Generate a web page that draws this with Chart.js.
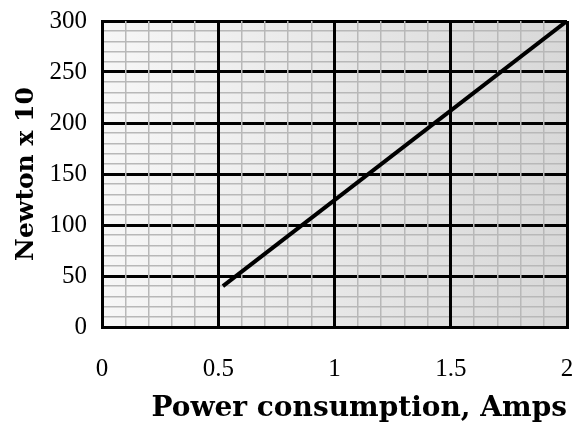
<!DOCTYPE html>
<html>
<head>
<meta charset="utf-8">
<script src="https://cdn.jsdelivr.net/npm/chart.js@4.4.0/dist/chart.umd.min.js"></script>
<style>
  body { margin: 0; background: #fff; }
  #wrap { width: 582px; height: 432px; }
</style>
</head>
<body>
<div id="wrap"><canvas id="canvasPower"></canvas></div>
<script>
// data
var amps = [0.52, 2];
var newtons = [40, 300];
var xTickLabels = [0, 0.5, 1, 1.5, 2];
var yTickLabels = [0, 50, 100, 150, 200, 250, 300];

function isMajor(v, list) {
  for (var i = 0; i < list.length; i++) {
    if (Math.abs(list[i] - v) < 1e-6) return true;
  }
  return false;
}

var points = [];
for (var i in amps) {
  points.push({ x: amps[i], y: newtons[i] });
}

var plotBg = {
  id: 'plotBg',
  beforeDraw: function(chart) {
    var a = chart.chartArea;
    var c = chart.ctx;
    var g = c.createLinearGradient(a.left, 0, a.right, 0);
    g.addColorStop(0, '#f7f7f7');
    g.addColorStop(1, '#d8d8d8');
    c.save();
    c.fillStyle = g;
    c.fillRect(a.left, a.top, a.right - a.left, a.bottom - a.top);
    c.restore();
  }
};

var ctx = document.getElementById('canvasPower');

var chart = new Chart(ctx, {
  type: 'line',
  data: {
    datasets: [{
      data: points,
      borderColor: '#000',
      borderWidth: 4,
      pointRadius: 0,
      fill: false
    }]
  },
  options: {
    responsive: true,
    maintainAspectRatio: false,
    animation: false,
    layout: { padding: { left: 0, right: 15, top: 21, bottom: 0 } },
    plugins: { legend: { display: false }, tooltip: { enabled: false } },
    scales: {
      // y first so the vertical lines get drawn on top of the horizontal ones
      y: {
        min: 0,
        max: 300,
        afterFit: function(s) {
          s.width = 102;
          s.paddingTop = 0;
          s.paddingBottom = 0;
        },
        ticks: {
          stepSize: 10,
          autoSkip: false,
          padding: 15,
          color: '#000',
          font: { family: 'Liberation Serif', size: 25 },
          callback: function(v) { return isMajor(v, yTickLabels) ? String(v) : ''; }
        },
        grid: {
          drawTicks: false,
          color: function(c) { return isMajor(c.tick.value, yTickLabels) ? '#000' : '#b8b8b8'; },
          lineWidth: function(c) { return isMajor(c.tick.value, yTickLabels) ? 3 : 1.5; }
        },
        border: { color: '#000', width: 3 },
        title: {
          display: true,
          text: 'Newton x 10',
          color: '#000',
          padding: { top: 11, bottom: 0 },
          font: { family: 'DejaVu Serif', size: 25, weight: 'bold' }
        }
      },
      x: {
        type: 'linear',
        min: 0,
        max: 2,
        afterFit: function(s) {
          s.height = 105;
          s.paddingLeft = 0;
          s.paddingRight = 0;
        },
        ticks: {
          stepSize: 0.1,
          autoSkip: false,
          maxRotation: 0,
          padding: 27,
          color: '#000',
          font: { family: 'Liberation Serif', size: 25 },
          callback: function(v) { return isMajor(v, xTickLabels) ? String(Math.round(v * 10) / 10) : ''; }
        },
        grid: {
          drawTicks: false,
          color: function(c) { return isMajor(c.tick.value, xTickLabels) ? '#000' : '#b8b8b8'; },
          lineWidth: function(c) { return isMajor(c.tick.value, xTickLabels) ? 3 : 1.5; }
        },
        border: { color: '#000', width: 3 },
        title: {
          display: true,
          text: 'Power consumption, Amps',
          align: 'end',
          color: '#000',
          padding: { top: 0, bottom: 6 },
          font: { family: 'DejaVu Serif', size: 28, weight: 'bold' }
        }
      }
    }
  },
  plugins: [plotBg]
});
</script>
</body>
</html>
